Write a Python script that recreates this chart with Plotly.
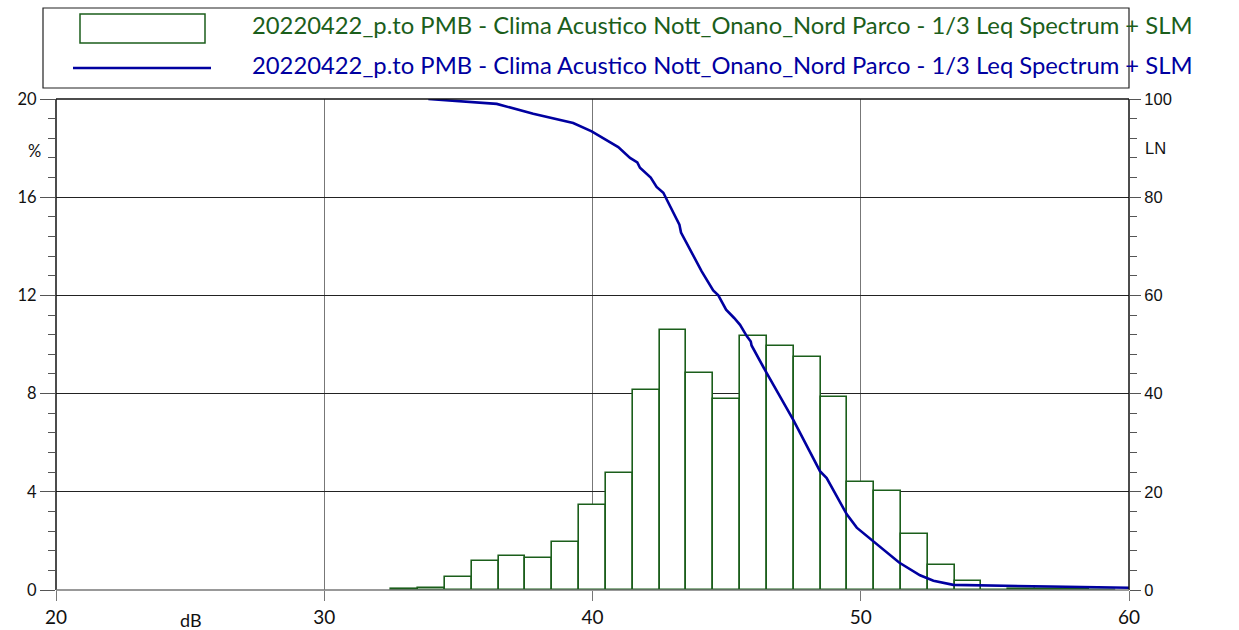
import plotly.graph_objects as go

# Level distribution (1 dB classes, % of time) and cumulative LN curve
levels = [33, 34, 35, 36, 37, 38, 39, 40, 41, 42, 43, 44, 45, 46, 47, 48,
          49, 50, 51, 52, 53, 54, 55, 56, 57, 58, 59]
percent = [0.04, 0.1, 0.55, 1.2, 1.4, 1.3, 1.95, 3.45, 4.75, 8.15, 10.6, 8.85,
           7.8, 10.35, 9.95, 9.5, 7.85, 4.4, 4.05, 2.3, 1.0, 0.35, 0.0, 0.05,
           0.04, 0.03, 0.02]

ln_db = [33.88, 36.43, 37.79, 39.28, 39.97, 40.96, 41.40, 41.67, 41.77, 42.17,
         42.39, 42.64, 43.24, 43.30, 44.07, 44.50, 44.69, 44.98, 45.28, 45.50,
         45.75, 45.90, 45.93, 46.49, 47.48, 48.48, 48.73, 49.48, 49.85, 50.47,
         50.72, 51.43, 52.21, 52.71, 53.45, 54.57, 57.06, 60.0]
ln_val = [100.0, 99.0, 97.0, 95.1, 93.4, 90.2, 88.0, 87.1, 86.0, 84.0,
          82.1, 80.9, 74.4, 72.8, 64.9, 61.0, 60.0, 57.1, 55.4, 54.0,
          51.7, 50.6, 49.8, 44.2, 34.7, 24.2, 22.8, 15.4, 12.7, 9.9,
          8.9, 5.6, 3.0, 1.9, 1.05, 0.9, 0.7, 0.45]

x_ticks = [20, 30, 40, 50, 60]
pct_ticks = [0, 4, 8, 12, 16, 20]
ln_ticks = [0, 20, 40, 60, 80, 100]

series_name = "20220422_p.to PMB - Clima Acustico Nott_Onano_Nord Parco - 1/3 Leq Spectrum"
green = "#1b5e1b"
blue = "#0000a0"

W, H = 1239, 630
L, R, T, B = 56, 1129, 99, 590


def px(x):
    return (x - L) / (R - L)


def py(y):
    return (B - y) / (B - T)


fig = go.Figure()
fig.add_trace(go.Bar(
    x=levels, y=percent, width=1.0,
    marker=dict(color="white", line=dict(color=green, width=1.6)),
    showlegend=False, hoverinfo="x+y"))
fig.add_trace(go.Scatter(
    x=ln_db, y=ln_val, mode="lines", yaxis="y2",
    line=dict(color=blue, width=2.6), showlegend=False))

left_font = dict(family="Lato, Carlito, sans-serif", size=16.5, color="#111")
right_font = dict(family="Liberation Sans, Arial, sans-serif", size=16.5, color="#111")

fig.update_layout(
    width=W, height=H,
    margin=dict(l=L, r=W - R, t=T, b=H - B, autoexpand=False),
    paper_bgcolor="white", plot_bgcolor="white",
    bargap=0,
    xaxis=dict(range=[20, 60], tickvals=x_ticks, ticks="outside", ticklen=10,
               tickcolor="#777", tickwidth=1.2, showgrid=True, gridcolor="#777",
               gridwidth=1.2, zeroline=False, showline=False, automargin=False,
               tickfont=dict(family="Lato, Carlito, sans-serif", size=19, color="#111")),
    yaxis=dict(range=[0, 20], tickvals=pct_ticks, ticks="outside", ticklen=15,
               tickcolor="#555", tickwidth=1.2, showgrid=True, gridcolor="#222",
               gridwidth=1.2, zeroline=False, showline=False, tickfont=left_font,
               automargin=False,
               minor=dict(dtick=0.8, ticks="outside", ticklen=7, tickcolor="#555",
                          tickwidth=1.2, showgrid=False)),
    yaxis2=dict(range=[0, 100], tickvals=ln_ticks, overlaying="y", side="right",
                ticks="outside", ticklen=11, tickcolor="#555", tickwidth=1.2,
                showgrid=False, zeroline=False, showline=False, tickfont=right_font,
                automargin=False,
                minor=dict(dtick=4, ticks="outside", ticklen=7, tickcolor="#555",
                           tickwidth=1.2, showgrid=False)),
)

shapes = [
    # plot frame
    dict(type="line", xref="paper", yref="paper", x0=0, x1=1, y0=1, y1=1,
         line=dict(color="#111", width=1.5)),
    dict(type="line", xref="paper", yref="paper", x0=0, x1=0, y0=0, y1=1,
         line=dict(color="#111", width=1.5)),
    dict(type="line", xref="paper", yref="paper", x0=1, x1=1, y0=0, y1=1,
         line=dict(color="#111", width=1.5)),
    dict(type="line", xref="paper", yref="paper", x0=0, x1=1, y0=0, y1=0,
         line=dict(color="#777", width=1.5)),
    # legend box
    dict(type="rect", xref="paper", yref="paper", x0=px(43), x1=px(1129),
         y0=py(88), y1=py(8), line=dict(color="#222", width=1.2)),
    dict(type="rect", xref="paper", yref="paper", x0=px(80), x1=px(205),
         y0=py(43), y1=py(14), line=dict(color=green, width=1.5),
         fillcolor="white"),
    dict(type="line", xref="paper", yref="paper", x0=px(73), x1=px(211),
         y0=py(68), y1=py(68), line=dict(color=blue, width=2.6)),
]
fig.update_layout(shapes=shapes)

legend_font = "Lato, Carlito, sans-serif"
annotations = [
    dict(text=series_name + " + SLM", x=px(250), y=py(25), xref="paper", yref="paper",
         xanchor="left", yanchor="middle", showarrow=False,
         font=dict(family=legend_font, size=23.8, color=green)),
    dict(text=series_name + " + SLM", x=px(250), y=py(65), xref="paper", yref="paper",
         xanchor="left", yanchor="middle", showarrow=False,
         font=dict(family=legend_font, size=23.8, color=blue)),
    dict(text="%", x=px(34), y=py(151), xref="paper", yref="paper",
         xanchor="center", yanchor="middle", showarrow=False, font=left_font),
    dict(text="LN", x=px(1155), y=py(148), xref="paper", yref="paper",
         xanchor="center", yanchor="middle", showarrow=False, font=right_font),
    dict(text="dB", x=px(191), y=py(620), xref="paper", yref="paper",
         xanchor="center", yanchor="middle", showarrow=False,
         font=dict(family=legend_font, size=18, color="#111")),
]
fig.update_layout(annotations=annotations)

fig.write_html("out.html")
